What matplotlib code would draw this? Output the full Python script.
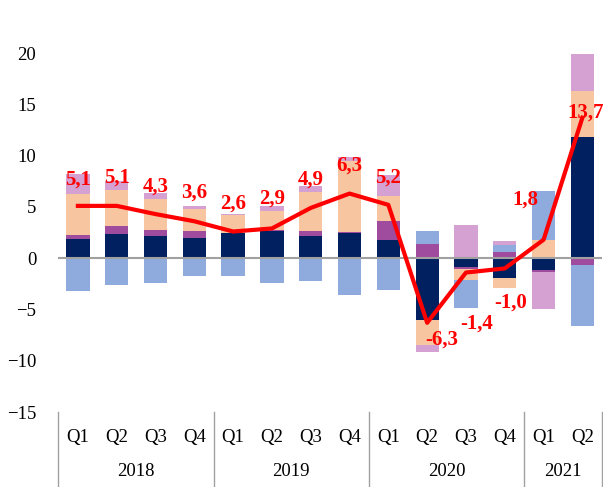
import matplotlib
matplotlib.use('Agg')
import matplotlib.pyplot as plt
import matplotlib.transforms as mtransforms
import numpy as np

# quarters and years on the category axis
quarters = ['Q1', 'Q2', 'Q3', 'Q4', 'Q1', 'Q2', 'Q3', 'Q4', 'Q1', 'Q2', 'Q3', 'Q4', 'Q1', 'Q2']
years = ['2018', '2019', '2020', '2021']
year_len = [4, 4, 4, 2]

# stacked contributions
navy = [1.91, 2.40, 2.14, 2.01, 2.44, 2.66, 2.14, 2.44, 1.78, -6.02, -0.85, -1.89, -1.20, 11.80]
purple = [0.36, 0.72, 0.62, 0.62, 0.00, 0.10, 0.52, 0.13, 1.86, 1.37, -0.22, 0.65, -0.13, -0.71]
peach = [4.03, 3.51, 3.02, 2.15, 1.76, 1.88, 3.84, 6.87, 2.39, -2.47, -1.05, -0.98, 1.82, 4.49]
lightblue = [-3.22, -2.60, -2.38, -1.73, -1.73, -2.38, -2.21, -3.58, -3.09, 1.29, -2.73, 0.62, 4.72, -5.95]
lilac = [1.90, 0.91, 0.62, 0.35, 0.09, 0.49, 0.49, 0.40, 2.05, -0.65, 3.25, 0.39, -3.61, 3.61]

# total growth line
total = [5.1, 5.1, 4.3, 3.6, 2.6, 2.9, 4.9, 6.3, 5.2, -6.3, -1.4, -1.0, 1.8, 13.7]

series = [navy, purple, peach, lightblue, lilac]
colors = ['#002060', '#A04C9E', '#F7C59F', '#8FAADC', '#D5A0D2']

# label offsets from the line point, in pixels (dx, dy)
label_offsets = [(0, 26), (0, 28), (0, 27), (0, 29), (0, 28), (0, 30), (0, 28),
                 (0, 28), (0, 27), (15, -17), (11, -51), (6, -34), (-18, 40), (3, 5)]

plt.rcParams['font.family'] = ['Liberation Serif', 'DejaVu Serif']

fig = plt.figure(figsize=(6.03, 4.87), dpi=100)
ax = fig.add_axes([0.097, 0.154, 0.901, 0.737])

x = np.arange(len(quarters))
pos_base = np.zeros(len(x))
neg_base = np.zeros(len(x))
for vals, c in zip(series, colors):
    v = np.array(vals)
    pos = np.where(v > 0, v, 0)
    neg = np.where(v < 0, v, 0)
    ax.bar(x, pos, 0.6, bottom=pos_base, color=c, zorder=2)
    ax.bar(x, neg, 0.6, bottom=neg_base, color=c, zorder=2)
    pos_base += pos
    neg_base += neg

ax.axhline(0, color='#A0A0A0', linewidth=1.5, zorder=3)
ax.plot(x, total, color='#FF0000', linewidth=3, zorder=4)

for i, v in enumerate(total):
    dx, dy = label_offsets[i]
    ax.annotate(('%.1f' % v).replace('.', ','), (x[i], v), xytext=(dx, dy),
                textcoords='offset pixels', ha='center', va='center',
                color='#FF0000', fontsize=15, fontweight='bold', zorder=5,
                annotation_clip=False)

ax.set_xlim(-0.5, len(x) - 0.5)
ax.set_ylim(-15, 20)
ax.set_yticks([-15, -10, -5, 0, 5, 10, 15, 20])
ax.tick_params(axis='y', length=0, pad=16, labelsize=13.5)
ax.set_xticks([])
for s in ax.spines.values():
    s.set_visible(False)

# two level category axis
trans = mtransforms.blended_transform_factory(ax.transData, ax.transAxes)
for i, q in enumerate(quarters):
    ax.text(x[i], -0.072, q, transform=trans, ha='center', va='center', fontsize=13.5)
start = -0.5
ax.plot([start, start], [0, -0.21], color='#A0A0A0', lw=1, transform=trans, clip_on=False)
for y, n in zip(years, year_len):
    ax.text(start + n / 2, -0.167, y, transform=trans, ha='center', va='center', fontsize=13.5)
    start += n
    ax.plot([start, start], [0, -0.21], color='#A0A0A0', lw=1, transform=trans, clip_on=False)

fig.savefig('out.png', dpi=100)
